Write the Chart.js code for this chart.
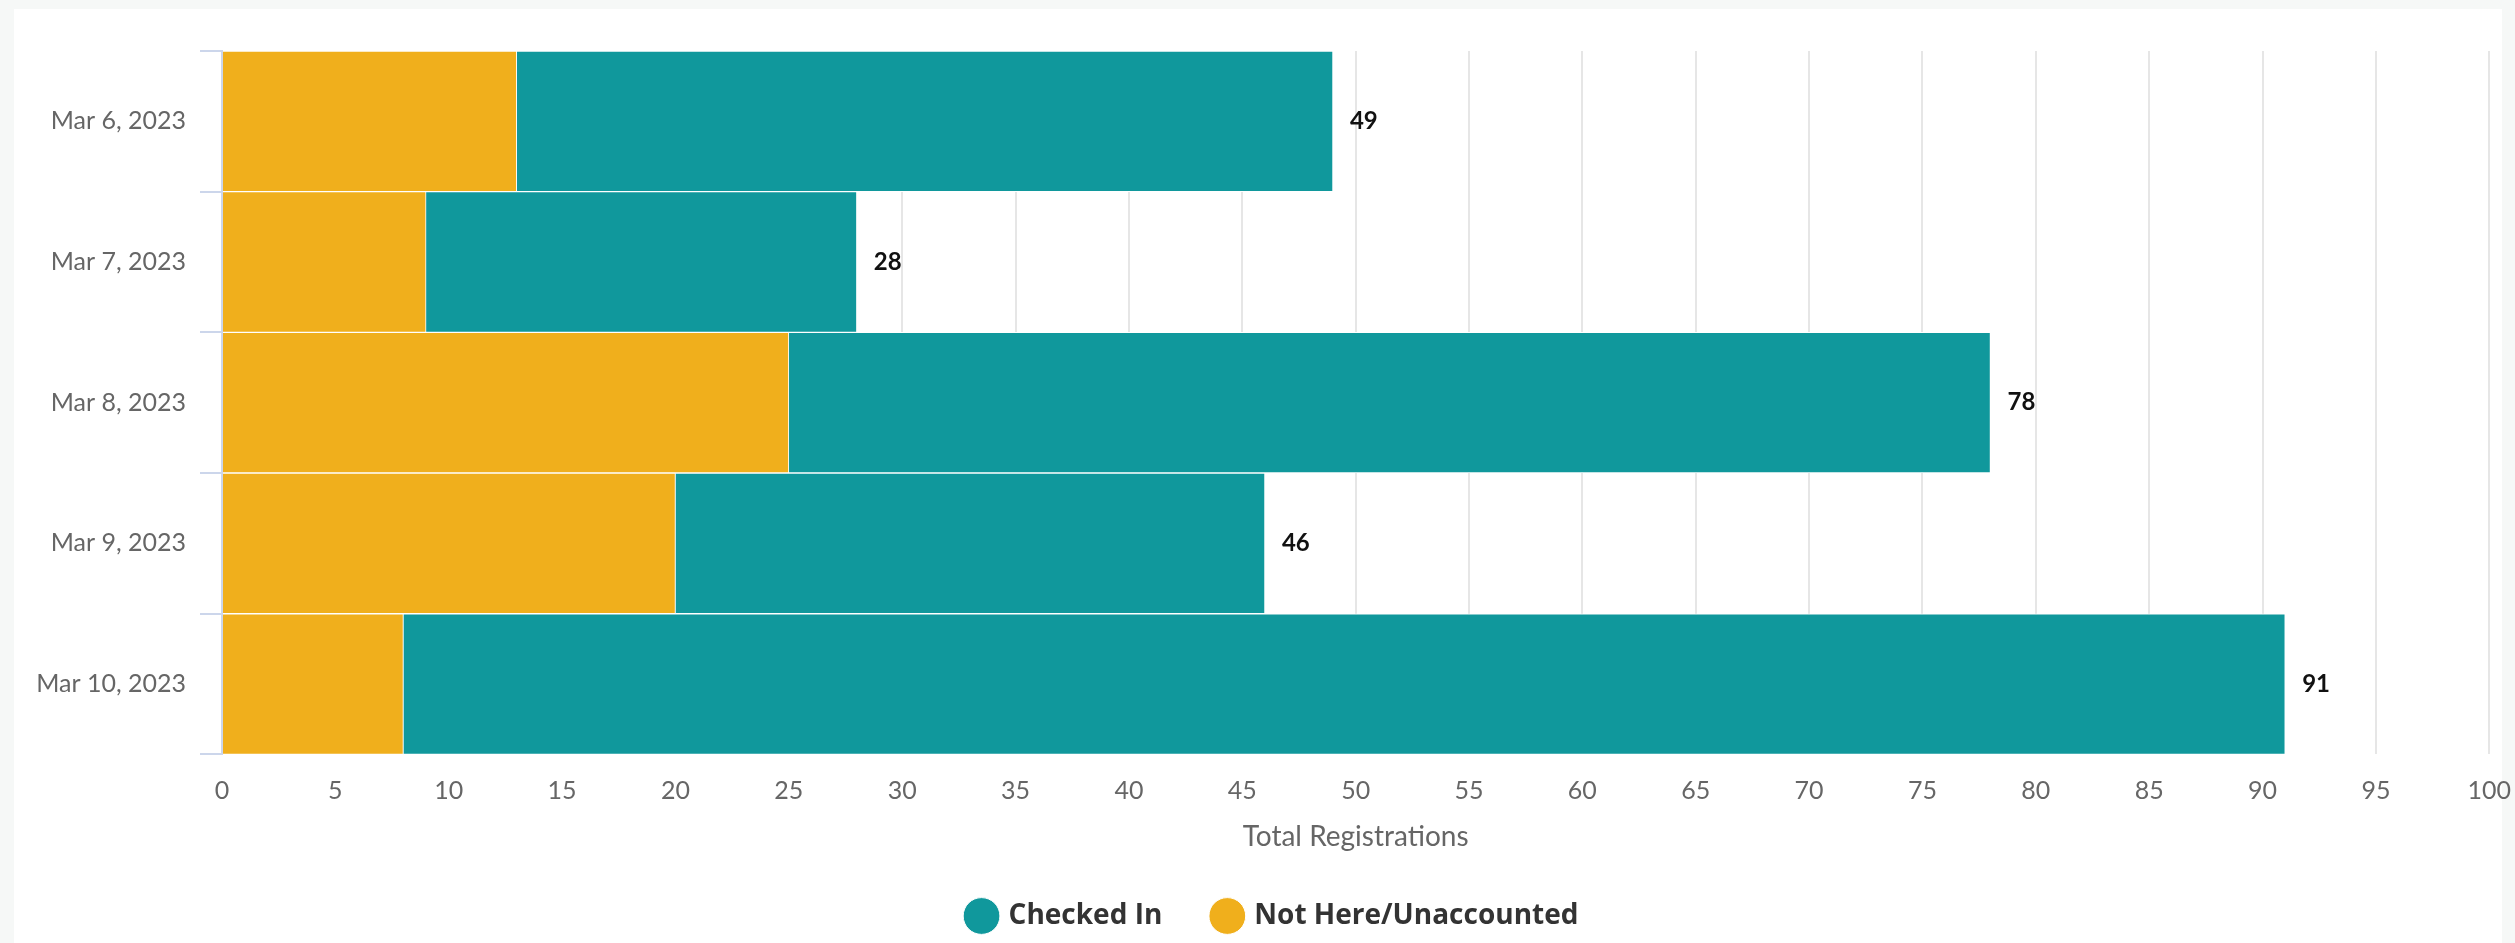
<!DOCTYPE html>
<html>
<head>
<meta charset="utf-8">
<script src="https://cdn.jsdelivr.net/npm/chart.js@4"></script>
<style>
  html, body { margin: 0; padding: 0; background: #f6f8f7; overflow: hidden; }
  #card { position: absolute; left: 14px; top: 9px; width: 2488px; height: 934px; background: #fff; }
  #regChart { position: absolute; left: 0; top: 0; }
</style>
</head>
<body>
<div id="card"><canvas id="regChart" width="2519" height="934"></canvas></div>
<script>
const dates = ['Mar 6, 2023', 'Mar 7, 2023', 'Mar 8, 2023', 'Mar 9, 2023', 'Mar 10, 2023'];
const notHere = [13, 9, 25, 20, 8];
const checkedIn = [36, 19, 53, 26, 83];
const xTicks = [0, 5, 10, 15, 20, 25, 30, 35, 40, 45, 50, 55, 60, 65, 70, 75, 80, 85, 90, 95, 100];

// writes the stacked total to the right of each bar
const totalsPlugin = {
    id: 'totals',
    afterDatasetsDraw: function (chart) {
        const ctx = chart.ctx;
        const meta = chart.getDatasetMeta(1);
        ctx.save();
        ctx.font = 'bold 24px Lato';
        ctx.fillStyle = '#111';
        ctx.textBaseline = 'middle';
        meta.data.forEach(function (bar, i) {
            const total = notHere[i] + checkedIn[i];
            ctx.fillText(String(total), bar.x + 17, bar.y);
        });
        ctx.restore();
    }
};

new Chart(document.getElementById('regChart').getContext('2d'), {
    type: 'bar',
    data: {
        labels: dates,
        datasets: [{
            label: 'Not Here/Unaccounted',
            data: notHere,
            backgroundColor: '#f0af1c',
            borderColor: '#ffffff',
            borderWidth: 1,
            barPercentage: 1,
            categoryPercentage: 1
        }, {
            label: 'Checked In',
            data: checkedIn,
            backgroundColor: '#10989c',
            borderColor: '#ffffff',
            borderWidth: 1,
            barPercentage: 1,
            categoryPercentage: 1
        }]
    },
    options: {
        indexAxis: 'y',
        responsive: false,
        animation: false,
        layout: { padding: { top: 42, right: 0, left: 0, bottom: 3 } },
        scales: {
            x: {
                stacked: true,
                min: 0,
                max: 100,
                afterBuildTicks: function (scale) {
                    scale.ticks = xTicks.map(function (v) { return { value: v }; });
                },
                border: { display: false },
                grid: { color: '#e6e6e6', lineWidth: 2, drawTicks: false },
                ticks: { color: '#666', font: { family: 'Lato', size: 25 }, padding: 22, maxRotation: 0 },
                title: {
                    display: true,
                    text: 'Total Registrations',
                    color: '#666',
                    font: { family: 'Lato', size: 28 },
                    padding: { top: -8, bottom: -4 }
                }
            },
            y: {
                stacked: true,
                afterFit: function (scale) { scale.width = 208; },
                border: { display: true, color: '#ccd6eb', width: 2 },
                grid: { display: true, drawOnChartArea: false, color: '#ccd6eb', lineWidth: 2, tickLength: 22, offset: true },
                ticks: { color: '#666', font: { family: 'Lato', size: 25 }, padding: 14 }
            }
        },
        plugins: {
            legend: {
                position: 'bottom',
                reverse: true,
                labels: {
                    usePointStyle: true,
                    pointStyle: 'circle',
                    boxWidth: 26,
                    boxHeight: 26,
                    color: '#333',
                    padding: 52,
                    font: { family: 'Open Sans', size: 28, weight: 'bold' }
                }
            },
            tooltip: { enabled: false }
        }
    },
    plugins: [totalsPlugin]
});
</script>
</body>
</html>
